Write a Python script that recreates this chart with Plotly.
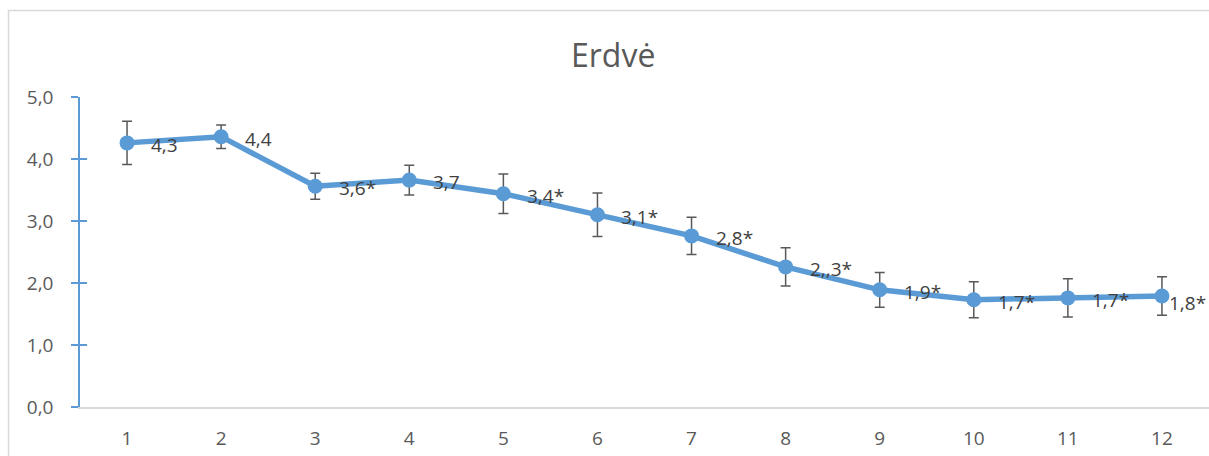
import plotly.graph_objects as go

categories = [1, 2, 3, 4, 5, 6, 7, 8, 9, 10, 11, 12]
values = [4.26, 4.36, 3.56, 3.66, 3.44, 3.10, 2.76, 2.26, 1.89, 1.73, 1.76, 1.79]
errors = [0.35, 0.19, 0.21, 0.24, 0.32, 0.35, 0.30, 0.31, 0.28, 0.29, 0.31, 0.31]
labels = ["4,3", "4,4", "3,6*", "3,7", "3,4*", "3,1*", "2,8*", "2,,3*", "1,9*", "1,7*", "1,7*", "1,8*"]
title_text = "Erdvė"

W, H = 1209, 456
ML, MR, MT, MB = 80, 0, 97, 49
PW = W - ML - MR
PH = H - MT - MB

FONT = "Open Sans"
BLUE = "#5B9BD5"

fig = go.Figure()
fig.add_trace(go.Scatter(
    x=categories, y=values,
    mode="lines+markers",
    line=dict(color=BLUE, width=5.5),
    marker=dict(color=BLUE, size=15),
    error_y=dict(type="data", array=errors, visible=True,
                 color="#595959", thickness=1.5, width=5),
    cliponaxis=False,
    showlegend=False,
    hoverinfo="skip",
))

annotations = []
n = len(categories)
for i, (c, v, t) in enumerate(zip(categories, values, labels)):
    last = i == n - 1
    annotations.append(dict(
        x=c, y=v, xref="x", yref="y", text=t, showarrow=False,
        xanchor="left", yanchor="middle",
        xshift=5 if last else 22, yshift=-7 if last else -2,
        font=dict(family=FONT, size=19, color="#404040"),
    ))

annotations.append(dict(
    x=(613 - ML) / PW, y=(H - MB - 55) / PH, xref="paper", yref="paper",
    text=title_text, showarrow=False, xanchor="center", yanchor="middle",
    font=dict(family=FONT, size=32, color="#595959"),
))

fig.update_layout(
    width=W, height=H,
    margin=dict(l=ML, r=MR, t=MT, b=MB, pad=0),
    paper_bgcolor="white", plot_bgcolor="white",
    separators=", ",
    annotations=annotations,
    shapes=[dict(type="rect", xref="paper", yref="paper",
                 x0=(8.5 - ML) / PW, x1=1.05,
                 y0=-0.5, y1=(H - MB - 10.5) / PH,
                 line=dict(color="#D9D9D9", width=1.5), layer="below")],
    xaxis=dict(
        range=[0.5, 12.5], tickmode="array", tickvals=categories,
        ticktext=[str(c) for c in categories],
        showgrid=False, zeroline=False,
        showline=True, linecolor="#D9D9D9", linewidth=1.5,
        ticks="", ticklabelstandoff=13,
        tickfont=dict(family=FONT, size=19, color="#595959"),
    ),
    yaxis=dict(
        range=[0, 5], tickmode="array", tickvals=[0, 1, 2, 3, 4, 5],
        tickformat=".1f",
        showgrid=False, zeroline=False,
        showline=True, linecolor=BLUE, linewidth=1.5,
        ticks="outside", ticklen=7, tickcolor=BLUE, tickwidth=1.5,
        ticklabelstandoff=14,
        tickfont=dict(family=FONT, size=19, color="#595959"),
    ),
    yaxis2=dict(
        range=[0, 5], tickmode="array", tickvals=[0, 1, 2, 3, 4, 5],
        overlaying="y", side="left", showgrid=False, zeroline=False,
        showline=False, showticklabels=False,
        ticks="inside", ticklen=7, tickcolor=BLUE, tickwidth=1.5,
    ),
)
fig.add_trace(go.Scatter(x=[None], y=[None], yaxis="y2", showlegend=False, hoverinfo="skip"))

fig.write_html("out.html", config={"displayModeBar": False})

with open("out.html", "r", encoding="utf-8") as f:
    html = f.read()
html = html.replace("<body>", '<body style="margin:0;overflow:hidden">', 1)
with open("out.html", "w", encoding="utf-8") as f:
    f.write(html)
